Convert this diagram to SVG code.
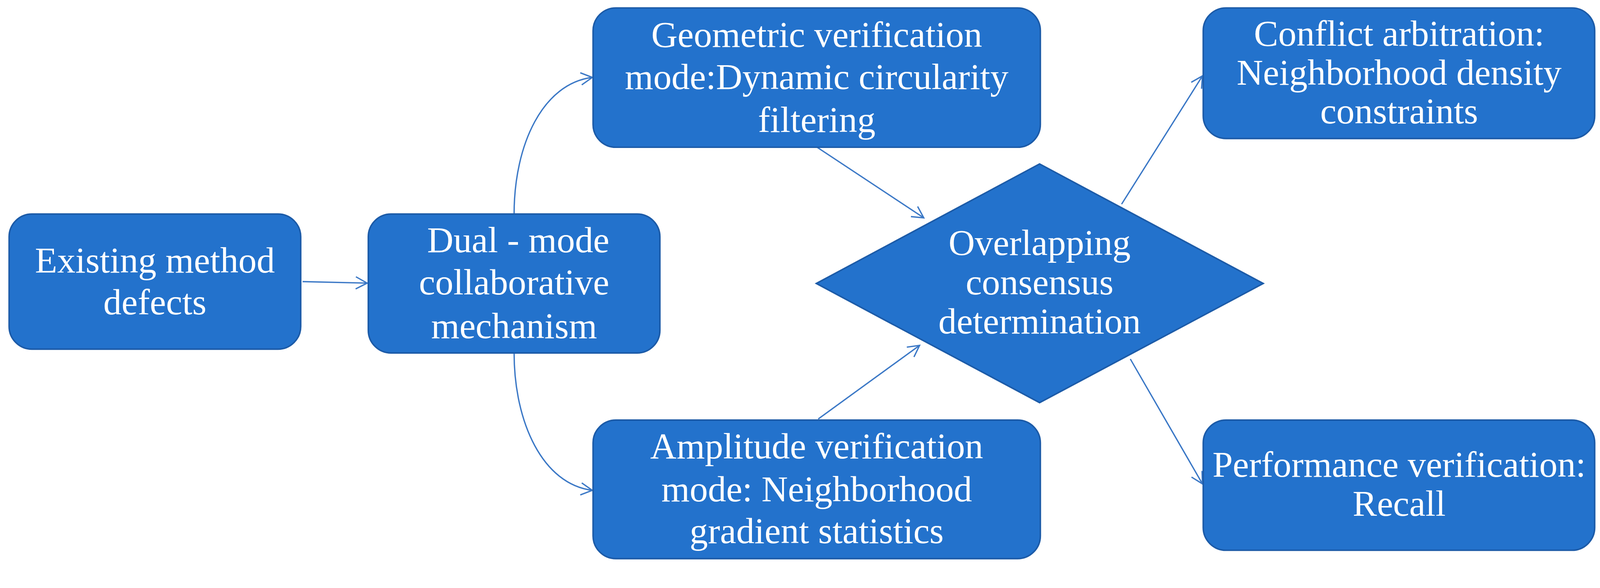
<svg xmlns="http://www.w3.org/2000/svg" width="4224" height="1506" viewBox="0 0 4224 1506">
<style>
.n{fill:#2372CC;stroke:#1C5BA8;stroke-width:4}
.t{font-family:"Liberation Serif","Times New Roman",serif;font-size:96px;fill:#fff;text-anchor:middle}
.c{fill:none;stroke:#3B78C6;stroke-width:3.5;marker-end:url(#b)}
</style>
<defs>
<marker id="b" markerWidth="40" markerHeight="40" refX="34" refY="20" orient="auto" markerUnits="userSpaceOnUse">
<path d="M4 4 L34 20 L4 36" fill="none" stroke="#3B78C6" stroke-width="3.5"/>
</marker>
</defs>
<rect width="4224" height="1506" fill="#fff"/>
<g transform="scale(0.972)">
<g id="connectors">
<path class="c" d="M797 742 L967 746"/>
<path class="c" d="M1354 564 C1354 380 1430 220 1560 204"/>
<path class="c" d="M1354 930 C1354 1114 1430 1276 1560 1292"/>
<path class="c" d="M2152 388 L2433 574"/>
<path class="c" d="M2155 1104 L2422 910"/>
<path class="c" d="M2954 538 L3167 200"/>
<path class="c" d="M2977 946 L3167 1275"/>
</g>
<g id="existing">
<rect class="n" x="24" y="564" width="768" height="356" rx="60"/>
<text class="t" x="408" y="718">Existing method</text>
<text class="t" x="408" y="828">defects</text>
</g>
<g id="dual">
<rect class="n" x="970" y="564" width="768" height="366" rx="60"/>
<text class="t" x="1365" y="665">Dual - mode</text>
<text class="t" x="1354" y="776">collaborative</text>
<text class="t" x="1354" y="891">mechanism</text>
</g>
<g id="geometric">
<rect class="n" x="1562" y="21" width="1178" height="367" rx="60"/>
<text class="t" x="2151" y="123">Geometric verification</text>
<text class="t" x="2151" y="235">mode:Dynamic circularity</text>
<text class="t" x="2151" y="348">filtering</text>
</g>
<g id="amplitude">
<rect class="n" x="1562" y="1107" width="1178" height="365" rx="60"/>
<text class="t" x="2151" y="1208">Amplitude verification</text>
<text class="t" x="2151" y="1321">mode: Neighborhood</text>
<text class="t" x="2151" y="1431">gradient statistics</text>
</g>
<g id="overlap">
<polygon class="n" points="2738,432 3327,747 2738,1061 2150,747"/>
<text class="t" x="2738" y="672">Overlapping</text>
<text class="t" x="2738" y="776">consensus</text>
<text class="t" x="2738" y="879">determination</text>
</g>
<g id="conflict">
<rect class="n" x="3169" y="21" width="1031" height="344" rx="60"/>
<text class="t" x="3685" y="120">Conflict arbitration:</text>
<text class="t" x="3685" y="223">Neighborhood density</text>
<text class="t" x="3685" y="325">constraints</text>
</g>
<g id="performance">
<rect class="n" x="3169" y="1107" width="1031" height="343" rx="60"/>
<text class="t" x="3685" y="1256">Performance verification:</text>
<text class="t" x="3685" y="1359">Recall</text>
</g>
</g>
</svg>
